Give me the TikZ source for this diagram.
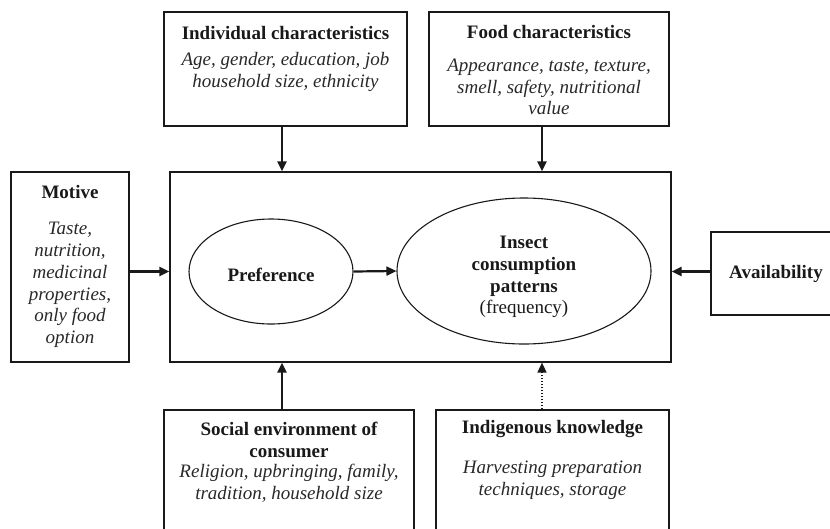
\documentclass[tikz,border=0pt]{standalone}
\usepackage{fontspec}
\setmainfont{Liberation Serif}
\usetikzlibrary{arrows.meta,shapes.geometric}
\definecolor{ink}{RGB}{25,25,25}
\definecolor{soft}{RGB}{40,40,40}
\begin{document}
\begin{tikzpicture}[x=1pt,y=-1pt,
  boxstyle/.style={draw=ink,line width=1.2pt,rectangle,inner sep=0pt},
  ellstyle/.style={draw=ink,line width=1.1pt,ellipse,inner sep=0pt},
  ttl/.style={text=ink,font=\fontsize{19}{21.7}\selectfont\bfseries,align=center,inner sep=0pt},
  body/.style={text=soft,font=\fontsize{19}{21.7}\selectfont\itshape,align=center,inner sep=0pt},
  arr/.style={draw=ink,line width=2.2pt,-{Triangle[length=10pt,width=9pt]}},
  dotarr/.style={draw=ink,line width=1.5pt,dash pattern=on 1.5pt off 1.5pt,-{Triangle[length=10pt,width=9pt]}}
]
\useasboundingbox (0,0) rectangle (830,528);
\clip (0,0) rectangle (830,528);

% boxes
\node[boxstyle,minimum width=243pt,minimum height=114pt] (ind) at (285.5,69) {};
\node[boxstyle,minimum width=240pt,minimum height=114pt] (food) at (549,69) {};
\node[boxstyle,minimum width=501pt,minimum height=190pt] (main) at (420.5,267) {};
\node[boxstyle,minimum width=118pt,minimum height=190pt] (mot) at (70,267) {};
\node[boxstyle,minimum width=130pt,minimum height=83pt] (av) at (776,273.5) {};
\node[boxstyle,minimum width=250pt,minimum height=130pt] (soc) at (289,475) {};
\node[boxstyle,minimum width=233pt,minimum height=130pt] (indg) at (552.5,475) {};

% ellipses
\node[ellstyle,minimum width=164pt,minimum height=105pt] (pref) at (271,271.5) {};
\node[ellstyle,minimum width=254pt,minimum height=146pt] (ins) at (524,271) {};

% texts
\node[ttl] (indT) at (285.5,33) {Individual characteristics};
\node[body] (indB) at (285.5,72) {Age, gender, education, job\\household size, ethnicity};
\node[ttl] (foodT) at (549,32) {Food characteristics};
\node[body] (foodB) at (549,87) {Appearance, taste, texture,\\smell, safety, nutritional\\value};
\node[ttl] (motT) at (70,192) {Motive};
\node[body] (motB) at (70,285) {Taste,\\nutrition,\\medicinal\\properties,\\only food\\option};
\node[ttl] (prefT) at (271,275) {Preference};
\node[ttl] (insT) at (524,277) {Insect\\consumption\\patterns\\{\mdseries (frequency)}};
\node[ttl] (avT) at (776,274) {Availability};
\node[ttl] (socT) at (289,440) {Social environment of\\consumer};
\node[body] (socB) at (289,483) {Religion, upbringing, family,\\tradition, household size};
\node[ttl] (indgT) at (552.5,429) {Indigenous knowledge};
\node[body] (indgB) at (552.5,480) {Harvesting preparation\\techniques, storage};

% connectors
\draw[arr] ([xshift=-3.5pt]ind.south) -- ([xshift=-3.5pt]ind.south |- main.north);
\draw[arr] ([xshift=-7pt]food.south) -- ([xshift=-7pt]food.south |- main.north);
\draw[arr] ([xshift=-7pt]soc.north) -- ([xshift=-7pt]soc.north |- main.south);
\draw[dotarr] ([xshift=-10.5pt]indg.north) -- ([xshift=-10.5pt]indg.north |- main.south);
\draw[arr] (mot.east |- pref.center) -- (main.west |- pref.center);
\draw[arr] (av.west |- pref.center) -- (main.east |- pref.center);
\draw[arr] (pref.east) -- (ins.west);
\end{tikzpicture}
\end{document}
